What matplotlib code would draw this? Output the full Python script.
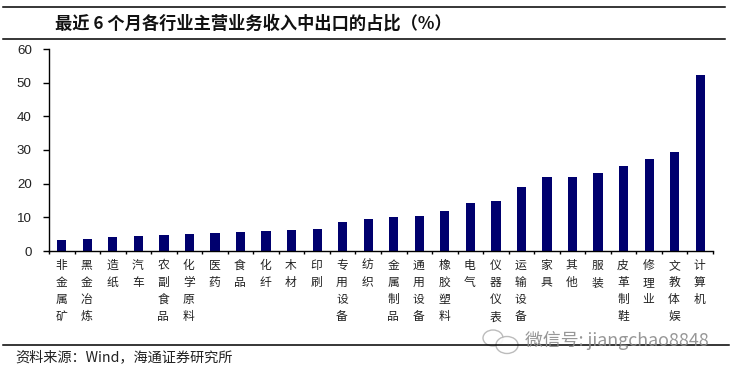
import matplotlib
matplotlib.use('Agg')
import matplotlib.pyplot as plt
from matplotlib.lines import Line2D
from matplotlib.patches import Ellipse

plt.rcParams['font.family'] = ['Noto Sans CJK SC', 'DejaVu Sans']

categories = ['非金属矿', '黑金冶炼', '造纸', '汽车', '农副食品', '化学原料', '医药', '食品', '化纤',
              '木材', '印刷', '专用设备', '纺织', '金属制品', '通用设备', '橡胶塑料', '电气', '仪器仪表',
              '运输设备', '家具', '其他', '服装', '皮革制鞋', '修理业', '文教体娱', '计算机']
values = [3.4, 3.7, 4.2, 4.6, 4.7, 5.0, 5.4, 5.5, 5.8, 6.3, 6.6, 8.7, 9.5, 10.2, 10.3, 12.0,
          14.3, 14.9, 19.0, 21.9, 21.9, 23.1, 25.2, 27.2, 29.3, 52.3]
yticks = [0, 10, 20, 30, 40, 50, 60]
title = '最近 6 个月各行业主营业务收入中出口的占比（%）'
source = '资料来源：Wind，海通证券研究所'
watermark = '微信号: jiangchao8848'

W, H = 733, 373
fig = plt.figure(figsize=(W / 100, H / 100), dpi=100, facecolor='white')
ax = fig.add_axes([49.0 / W, 1 - 251.0 / H, (713.0 - 49.0) / W, (251.0 - 49.0) / H])

x = range(len(categories))
ax.bar(x, values, width=0.36, color='#00006e')
ax.set_xlim(-0.5, len(categories) - 0.5)
ax.set_ylim(0, 60)
ax.spines['top'].set_visible(False)
ax.spines['right'].set_visible(False)
for s in ('left', 'bottom'):
    ax.spines[s].set_linewidth(1.0)
ax.set_yticks(yticks)
ax.tick_params(axis='y', length=4.4, width=1, pad=8, labelsize=9.6, labelcolor='#222222')
for t in ax.get_yticklabels():
    t.set_fontfamily(['Liberation Sans'])
ax.set_xticks([i - 0.5 for i in range(len(categories) + 1)])
ax.set_xticklabels([])
ax.tick_params(axis='x', length=2.5, width=1)

for i, c in enumerate(categories):
    ax.annotate('\n'.join(c), xy=(i, 0), xycoords=('data', 'axes fraction'), xytext=(-0.5, -5.5),
                textcoords='offset points', ha='center', va='top', fontsize=8.5,
                color='#222222', linespacing=1.42, fontweight='light')

def px_text(px, py, s, **kw):
    fig.text(px / W, 1 - py / H, s, **kw)

px_text(55, 23.5, title, fontsize=12.4, fontweight='bold', color='#111111', va='center', ha='left')
px_text(15, 357, source, fontsize=10.2, color='#222222', va='center', ha='left')

for py, x0, x1, lw in [(6.5, 3, 725, 1.1), (38.5, 3, 725, 1.1), (344.5, 3, 729, 1.1)]:
    fig.add_artist(Line2D([x0 / W, x1 / W], [1 - py / H, 1 - py / H], color='black', lw=lw))

# watermark
for cx, cy, w, h in [(493, 338, 20, 16), (507, 345, 22, 17)]:
    fig.add_artist(Ellipse((cx / W, 1 - cy / H), w / W, h / H, transform=fig.transFigure,
                           facecolor='white', edgecolor='#b5b5b5', lw=1.0, alpha=0.9))
px_text(525, 340, watermark, fontsize=12.9, color='#8c8c8c', va='center', ha='left', alpha=0.9)

fig.savefig('out.png', dpi=100)
